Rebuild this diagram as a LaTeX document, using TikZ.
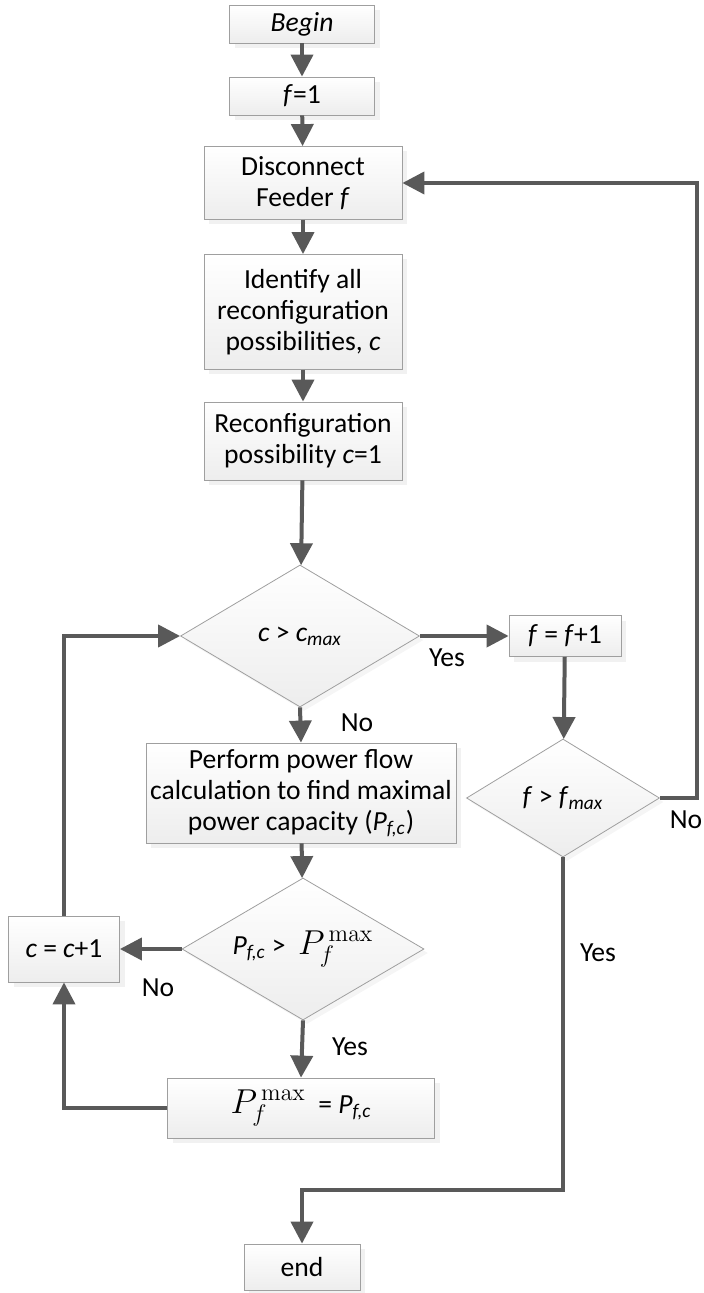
\documentclass[tikz,border=0pt]{standalone}
\usepackage[no-math]{fontspec}
\setmainfont{Carlito}
\usepackage{tikz}
\usetikzlibrary{arrows.meta,shapes.geometric,shadows}
\newcommand{\vi}[1]{\textit{#1}}
\newcommand{\pfc}{\textit{P}\textsubscript{\textit{f,c}}}
\newcommand{\pmx}{{\fontsize{17}{18}\selectfont$P_f^{\,\mathrm{max}}$}}
\tikzset{
  stepbox/.style  = {draw=gray!75,line width=0.4pt,top color=white,bottom color=gray!14,
                     drop shadow={shadow xshift=2.5pt,shadow yshift=-2.5pt,fill=gray!22},
                     align=center,inner sep=1pt,font=\fontsize{13.8}{15.5}\selectfont},
  testbox/.style  = {diamond,aspect=1.7,draw=gray!75,line width=0.4pt,top color=white,bottom color=gray!14,
                     drop shadow={shadow xshift=2pt,shadow yshift=-2pt,fill=gray!15},
                     inner sep=0pt,font=\fontsize{13.8}{15.5}\selectfont},
  flow/.style     = {-{Triangle[length=11pt,width=11pt]},line width=2pt,draw=black!65},
  lbl/.style      = {font=\fontsize{13.8}{15.5}\selectfont}
}

\begin{document}
\begin{tikzpicture}[x=0.5pt,y=-0.5pt]
  \useasboundingbox (0,0) rectangle (704,1293);
  % main column
  \node[stepbox,minimum width=72.5pt,minimum height=19pt] (begin) at (302,24)  {\vi{Begin}};
  \node[stepbox,minimum width=72.5pt,minimum height=19pt] (fone)  at (302,96)  {\vi{f}=1};
  \node[stepbox,minimum width=99pt,minimum height=36.5pt] (disc)  at (303,183) {Disconnect\\Feeder \vi{f}};
  \node[stepbox,minimum width=99pt,minimum height=57.5pt] (ident) at (303,312) {Identify all\\reconfiguration\\possibilities, \vi{c}};
  \node[stepbox,minimum width=99pt,minimum height=39pt]   (cone)  at (303,441) {Reconfiguration\\possibility \vi{c}=1};
  \node[testbox,minimum width=119.5pt,minimum height=71pt] (cmax) at (300,636) {\vi{c} > \vi{c}\textsubscript{\vi{max}}};
  \node[stepbox,minimum width=155pt,minimum height=50pt]  (pflow) at (301,793) {Perform power flow\\calculation to find maximal\\power capacity (\pfc)};
  \node[testbox,minimum width=121pt,minimum height=71pt]  (pcmp)  at (303,949) {\pfc{} >\ \ \pmx};
  \node[stepbox,minimum width=133.5pt,minimum height=30pt] (pset) at (301,1108) {\pmx\ \ = \pfc};
  \node[stepbox,minimum width=55.5pt,minimum height=33pt] (cinc)  at (64,949)  {\vi{c} = \vi{c}+1};
  % feeder column
  \node[stepbox,minimum width=56pt,minimum height=20.5pt] (finc)  at (565,636) {\vi{f} = \vi{f}+1};
  \node[testbox,minimum width=96.5pt,minimum height=59pt] (fmax)  at (563,798) {\vi{f} > \vi{f}\textsubscript{\vi{max}}};
  \node[stepbox,minimum width=58pt,minimum height=23pt]   (fin)   at (302,1267) {end};
  % connectors
  \draw[flow] (begin) -- (fone);
  \draw[flow] (fone) -- (disc);
  \draw[flow] (disc) -- (ident);
  \draw[flow] (ident) -- (cone);
  \draw[flow] (cone) -- (cmax);
  \draw[flow] (cmax.south) -- (pflow.north);
  \draw[flow] (pflow) -- (pcmp);
  \draw[flow] (pcmp.south) -- (pset.north);
  \draw[flow] (pcmp.west) -- (cinc.east);
  \draw[flow] (pset.west) -| (cinc.south);
  \draw[flow] (cinc.north) |- (cmax.west);
  \draw[flow] (cmax.east) -- (finc.west);
  \draw[flow] (finc) -- (fmax);
  \draw[flow] (fmax.east) -- ++(37,0) |- (disc.east);
  \draw[flow] (fmax.south) -- ++(0,333) -| (fin.north);
  % labels
  \node[lbl] (yes1) at (447,658)  {Yes};
  \node[lbl] (no1)  at (357,723)  {No};
  \node[lbl] (no2)  at (686,820)  {No};
  \node[lbl] (yes2) at (598,953)  {Yes};
  \node[lbl] (no3)  at (158,988)  {No};
  \node[lbl] (yes3) at (350,1047) {Yes};
\end{tikzpicture}
\end{document}
